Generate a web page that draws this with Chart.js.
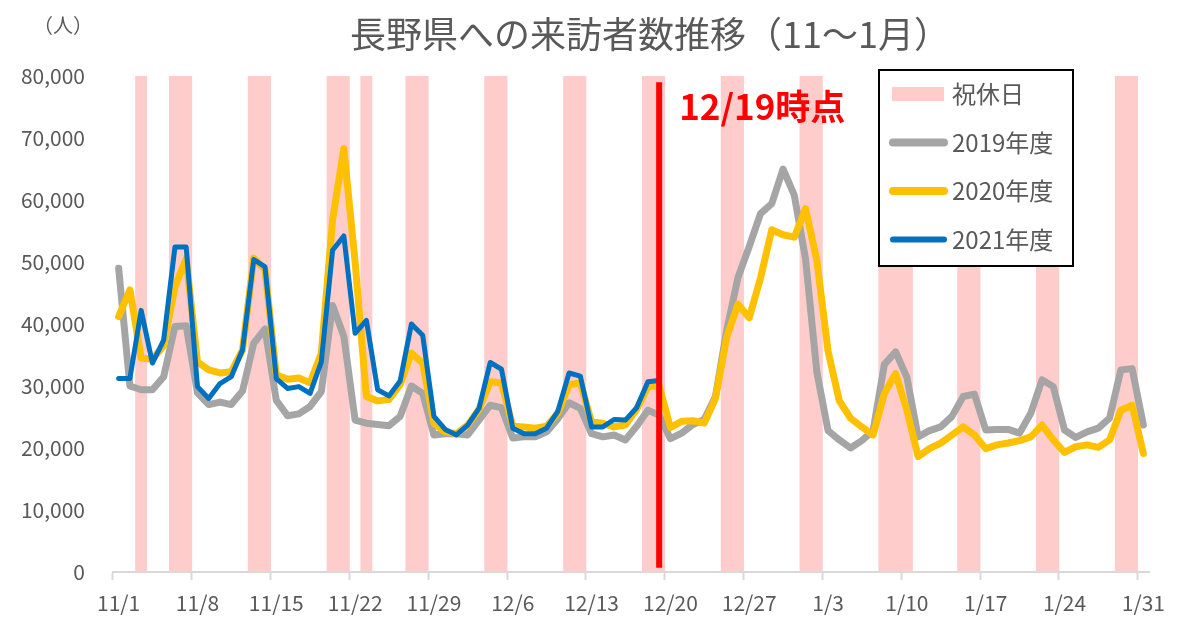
<!DOCTYPE html>
<html>
<head>
<meta charset="utf-8">
<script src="https://cdn.jsdelivr.net/npm/chart.js@4.4.1/dist/chart.umd.min.js"></script>
<style>
  html, body { margin: 0; padding: 0; background: #fff; }
</style>
</head>
<body>
<canvas id="chart" width="1192" height="620"></canvas>
<script>
// 日付（11/1〜1/31）
const dates = [
  '11/1','11/2','11/3','11/4','11/5','11/6','11/7','11/8','11/9','11/10',
  '11/11','11/12','11/13','11/14','11/15','11/16','11/17','11/18','11/19','11/20',
  '11/21','11/22','11/23','11/24','11/25','11/26','11/27','11/28','11/29','11/30',
  '12/1','12/2','12/3','12/4','12/5','12/6','12/7','12/8','12/9','12/10',
  '12/11','12/12','12/13','12/14','12/15','12/16','12/17','12/18','12/19','12/20',
  '12/21','12/22','12/23','12/24','12/25','12/26','12/27','12/28','12/29','12/30','12/31',
  '1/1','1/2','1/3','1/4','1/5','1/6','1/7','1/8','1/9','1/10',
  '1/11','1/12','1/13','1/14','1/15','1/16','1/17','1/18','1/19','1/20',
  '1/21','1/22','1/23','1/24','1/25','1/26','1/27','1/28','1/29','1/30','1/31'
];

// 祝休日
const holidays = [
  '11/3','11/6','11/7','11/13','11/14','11/20','11/21','11/23','11/27','11/28',
  '12/4','12/5','12/11','12/12','12/18','12/19','12/25','12/26',
  '1/1','1/2','1/8','1/9','1/10','1/15','1/16','1/22','1/23','1/29','1/30'
];

const visitors2019 = [
  49000, 30000, 29400, 29400, 31500, 39600, 39700, 28900, 27000, 27400,
  27000, 29200, 36900, 39200, 27700, 25200, 25500, 26700, 29100, 43000,
  38000, 24500, 24000, 23800, 23600, 25100, 30000, 28800, 22100, 22300,
  22300, 22100, 24500, 26900, 26500, 21600, 21800, 21800, 22600, 24700,
  27300, 26400, 22300, 21800, 22100, 21300, 23500, 26100, 25300, 21500,
  22400, 23800, 24600, 28300, 39000, 47500, 52500, 57800, 59400, 65000, 60800,
  50500, 32300, 22800, 21300, 20000, 21200, 22800, 33500, 35500, 31400,
  21800, 22800, 23400, 25100, 28300, 28700, 22900, 23000, 23000, 22400,
  25600, 31000, 29900, 22900, 21700, 22600, 23200, 24800, 32600, 32800, 23700
];

const visitors2020 = [
  41200, 45500, 34500, 34300, 36500, 46000, 50500, 33900, 32600, 32100,
  32300, 35800, 50600, 48800, 31800, 31100, 31300, 30500, 35300, 56800,
  68300, 50000, 28300, 27600, 27800, 30200, 35300, 33700, 24000, 22600,
  22300, 23700, 26200, 30700, 30500, 23500, 23400, 23200, 23500, 25600,
  30200, 30500, 24200, 24000, 23400, 23700, 26200, 29900, 30000, 23300,
  24300, 24400, 24000, 28000, 37900, 43200, 41000, 47400, 55200, 54400, 54000,
  58600, 50300, 35600, 27600, 24800, 23400, 22100, 28800, 32000, 26100,
  18600, 19900, 20800, 22100, 23400, 22100, 19900, 20500, 20800, 21200,
  21800, 23700, 21300, 19300, 20200, 20500, 20100, 21300, 26100, 26900, 19100
];

// 12/19時点まで
const visitors2021 = [
  31200, 31200, 42200, 33700, 37400, 52400, 52400, 29900, 28000, 30400,
  31500, 35800, 50400, 49200, 31200, 29600, 29900, 28800, 33900, 51900,
  54200, 38500, 40600, 29400, 28400, 30800, 40000, 38200, 25100, 23000,
  22100, 23700, 26400, 33800, 32700, 23200, 22300, 22300, 23200, 25900,
  32100, 31600, 23400, 23400, 24600, 24500, 26500, 30700, 30900
];

const titleText = '長野県への来訪者数推移（11～1月）';
const unitText = '（人）';
const markerDate = '12/19';
const markerLabel = '12/19時点';
const yMax = 80000;

const textColor = '#595959';
const fontFamily = "'Noto Sans CJK JP', 'Noto Sans', sans-serif";
Chart.defaults.font.family = fontFamily;

const holidayData = dates.map(d => holidays.includes(d) ? yMax : null);

const titlePlugin = {
  id: 'titleText',
  afterDraw(chart) {
    const { ctx } = chart;
    ctx.save();
    ctx.fillStyle = textColor;
    ctx.textAlign = 'center';
    ctx.textBaseline = 'middle';
    ctx.font = `36px ${fontFamily}`;
    ctx.fillText(titleText, 650, 34);
    ctx.font = `20px ${fontFamily}`;
    ctx.fillText(unitText, 63, 25);
    ctx.restore();
  }
};

const markerPlugin = {
  id: 'marker',
  afterDatasetsDraw(chart) {
    const { ctx, scales: { x, y } } = chart;
    const px = x.getPixelForValue(dates.indexOf(markerDate));
    ctx.save();
    ctx.strokeStyle = '#FF0000';
    ctx.lineWidth = 6;
    ctx.beginPath();
    ctx.moveTo(px, y.getPixelForValue(79000));
    ctx.lineTo(px, y.getPixelForValue(700));
    ctx.stroke();
    ctx.fillStyle = '#FF0000';
    ctx.font = `bold 35px ${fontFamily}`;
    ctx.textAlign = 'left';
    ctx.textBaseline = 'middle';
    ctx.fillText(markerLabel, px + 20, 107);
    ctx.restore();
  }
};

// 凡例（グラフ内の枠付き）
const legendBoxPlugin = {
  id: 'legendBox',
  afterDraw(chart) {
    const { ctx } = chart;
    const box = { left: 879, top: 70, width: 194, height: 196 };
    ctx.save();
    ctx.fillStyle = '#fff';
    ctx.fillRect(box.left, box.top, box.width, box.height);
    ctx.strokeStyle = '#000';
    ctx.lineWidth = 2;
    ctx.strokeRect(box.left, box.top, box.width, box.height);
    ctx.font = `24px ${fontFamily}`;
    ctx.textBaseline = 'middle';
    ctx.textAlign = 'left';
    chart.data.datasets.forEach((ds, i) => {
      const cy = 94 + i * 48.5;
      if (ds.type === 'line') {
        ctx.strokeStyle = ds.borderColor;
        ctx.lineWidth = ds.borderWidth + 1;
        ctx.lineCap = 'round';
        ctx.beginPath();
        ctx.moveTo(893, cy);
        ctx.lineTo(944, cy);
        ctx.stroke();
      } else {
        ctx.fillStyle = ds.backgroundColor;
        ctx.fillRect(892, cy - 7, 52, 14);
      }
      ctx.fillStyle = textColor;
      ctx.fillText(ds.label, 952, cy);
    });
    ctx.restore();
  }
};

new Chart(document.getElementById('chart'), {
  type: 'bar',
  data: {
    labels: dates,
    datasets: [
      {
        label: '祝休日',
        data: holidayData,
        backgroundColor: '#FFCCCC',
        barPercentage: 1,
        categoryPercentage: 1,
        order: 10
      },
      {
        type: 'line',
        label: '2019年度',
        data: visitors2019,
        borderColor: '#A5A5A5',
        borderWidth: 7,
        pointRadius: 0,
        borderJoinStyle: 'round',
        borderCapStyle: 'round',
        order: 3
      },
      {
        type: 'line',
        label: '2020年度',
        data: visitors2020,
        borderColor: '#FFC000',
        borderWidth: 7,
        pointRadius: 0,
        borderJoinStyle: 'round',
        borderCapStyle: 'round',
        order: 2
      },
      {
        type: 'line',
        label: '2021年度',
        data: visitors2021,
        borderColor: '#0070C0',
        borderWidth: 5,
        pointRadius: 0,
        borderJoinStyle: 'round',
        borderCapStyle: 'round',
        order: 1
      }
    ]
  },
  options: {
    responsive: false,
    animation: false,
    devicePixelRatio: 1,
    layout: { padding: { top: 76, right: 43, left: 0, bottom: 0 } },
    plugins: {
      legend: { display: false },
      title: { display: false },
      tooltip: { enabled: false }
    },
    scales: {
      x: {
        offset: true,
        grid: {
          offset: true,
          drawOnChartArea: false,
          drawTicks: true,
          tickLength: 8,
          tickWidth: 2,
          tickColor: c => (c.index !== undefined && c.index % 7 === 0) ? '#D9D9D9' : 'rgba(0,0,0,0)'
        },
        border: { color: '#D9D9D9', width: 2 },
        ticks: {
          autoSkip: false,
          maxRotation: 0,
          padding: 10,
          color: textColor,
          font: { size: 21 },
          callback: (v, i) => i % 7 === 0 ? dates[i] : ''
        },
        afterFit: s => { s.height = 48; }
      },
      y: {
        min: 0,
        max: yMax,
        ticks: {
          stepSize: 10000,
          padding: 28,
          color: textColor,
          font: { size: 21 },
          callback: v => v.toLocaleString('en-US')
        },
        grid: { display: false, drawTicks: false },
        border: { display: false },
        afterFit: s => { s.width = 113; }
      }
    }
  },
  plugins: [titlePlugin, markerPlugin, legendBoxPlugin]
});
</script>
</body>
</html>
